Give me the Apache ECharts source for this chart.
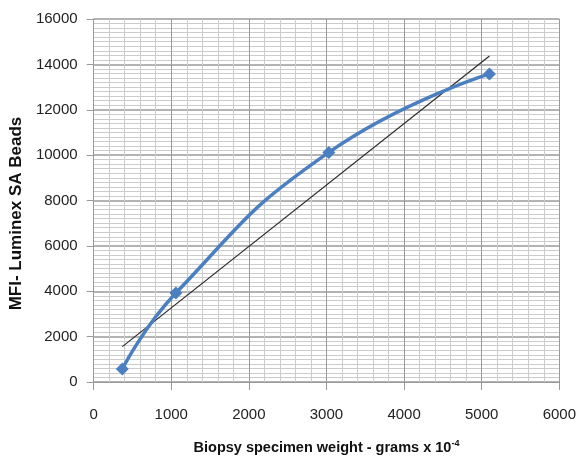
<!DOCTYPE html>
<html>
<head>
<meta charset="utf-8">
<script src="https://cdn.jsdelivr.net/npm/echarts@6/dist/echarts.min.js"></script>
<style>
  html, body { margin: 0; padding: 0; background: #fff; }
  #chart { width: 579px; height: 460px; }
</style>
</head>
<body>
<div id="chart"></div>
<script>
// Biopsy weight (grams x 10^-4) against MFI of Luminex SA beads
const weights = [370, 1060, 3030, 5100];
const mfi = [570, 3920, 10120, 13580];

// Linear trend line end points
const trendWeights = [370, 5100];
const trendMfi = [1560, 14370];

// Axis ranges and tick steps
const xMax = 6000, xStep = 1000;
const yMax = 16000, yStep = 2000;

const FONT = 'Liberation Sans';
const majorColor = '#9a9a9a';
const minorColor = '#cccccc';

const chart = echarts.init(document.getElementById('chart'));

chart.setOption({
  animation: false,
  backgroundColor: '#ffffff',
  grid: { left: 90, right: 19, top: 19, bottom: 78, containLabel: false },
  xAxis: {
    type: 'value',
    min: 0, max: xMax, interval: xStep,
    name: '{b|Biopsy specimen weight - grams x 10}{sup|-4}',
    nameLocation: 'middle',
    nameGap: 57,
    nameTextStyle: {
      rich: {
        b: { fontFamily: FONT, fontSize: 14.5, fontWeight: 'bold', color: '#111' },
        sup: { fontFamily: FONT, fontSize: 9, fontWeight: 'bold', color: '#111', padding: [0, 0, 8, 0] }
      }
    },
    axisLine: { show: true, lineStyle: { color: majorColor, width: 1 } },
    axisTick: { show: true, length: 8, lineStyle: { color: majorColor } },
    axisLabel: { fontFamily: FONT, fontSize: 15, color: '#222', margin: 25, formatter: v => String(v) },
    splitLine: { show: true, lineStyle: { color: majorColor, width: 1 } },
    minorTick: { show: false, splitNumber: 5 },
    minorSplitLine: { show: true, lineStyle: { color: minorColor, width: 1 } }
  },
  yAxis: {
    type: 'value',
    min: 0, max: yMax, interval: yStep,
    name: 'MFI- Luminex SA Beads',
    nameLocation: 'middle',
    nameGap: 59,
    nameTextStyle: { fontFamily: FONT, fontSize: 17, fontWeight: 'bold', color: '#111', padding: [0, 26, 0, 0] },
    axisLine: { show: true, lineStyle: { color: majorColor, width: 1 } },
    axisTick: { show: true, length: 7, lineStyle: { color: majorColor } },
    axisLabel: { fontFamily: FONT, fontSize: 15, color: '#222', margin: 16, formatter: v => String(v) },
    splitLine: { show: true, lineStyle: { color: majorColor, width: 1.5 } },
    minorTick: { show: false, splitNumber: 10 },
    minorSplitLine: { show: true, lineStyle: { color: minorColor, width: 1 } }
  },
  series: [
    {
      name: 'Trend',
      type: 'line',
      data: trendWeights.map((w, i) => [w, trendMfi[i]]),
      showSymbol: false,
      lineStyle: { color: '#2a2a2a', width: 1.2 },
      z: 2
    },
    {
      name: 'MFI',
      type: 'line',
      data: weights.map((w, i) => [w, mfi[i]]),
      smooth: 0.5,
      symbol: 'diamond',
      symbolSize: 13,
      itemStyle: { color: '#4a7fc1' },
      lineStyle: { color: '#4a7fc1', width: 3.5 },
      z: 3
    }
  ]
});
</script>
</body>
</html>
